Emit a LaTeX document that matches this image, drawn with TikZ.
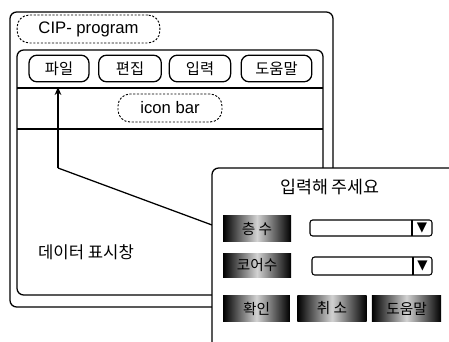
\documentclass[tikz,border=0pt]{standalone}
\usepackage{fontspec}
\setmainfont{Liberation Sans}
\newfontfamily\kr{Noto Sans CJK KR}
\newfontfamily\dv{DejaVu Sans}
\usetikzlibrary{arrows.meta}
\begin{document}
\begin{tikzpicture}[x=0.75pt,y=-0.75pt,line width=0.95pt,
  frame/.style={draw,rounded corners=5pt},
  tag/.style={draw,dash pattern=on 1.6pt off 1.2pt,line width=0.7pt,rounded corners=9pt,inner sep=0pt,minimum height=21pt,font=\fontsize{12.5}{14}\selectfont},
  menubtn/.style={draw,rounded corners=6pt,inner sep=0pt,minimum height=20pt,font=\kr\fontsize{11.5}{13}\selectfont},
  darkbtn/.style={left color=black,right color=black,middle color=gray!35,inner sep=0pt,minimum height=20pt,font=\kr\fontsize{11}{13}\selectfont},
  combo/.style={draw,rounded corners=2pt,line width=0.8pt},
  lbl/.style={font=\kr\fontsize{12.5}{14}\selectfont,inner sep=0pt}]
\useasboundingbox (0,0) rectangle (449,342);
\clip (0,0) rectangle (449,342);
\fill[white] (0,0) rectangle (449,342);
% outer and inner windows
\draw[frame] (10,12) rectangle (333,307);
\draw[frame] (17,50) rectangle (323,295);
\coordinate (sepAl) at (17,88);
\coordinate (sepAr) at (323,88);
\coordinate (sepBl) at (17,129);
\coordinate (sepBr) at (323,129);
\draw (sepAl) -- (sepAr);
\draw (sepBl) -- (sepBr);
\node[tag,minimum width=107pt] (cip) at (88.5,29) {CIP- program};
\node[tag,minimum width=78pt] (icon) at (170,108) {icon bar};
\node[menubtn,minimum width=45pt] (file) at (59,68.5) {파일};
\node[menubtn,minimum width=47pt] (edit) at (130,68.5) {편집};
\node[menubtn,minimum width=46pt] (input) at (200,68.5) {입력};
\node[menubtn,minimum width=53pt] (help) at (276.5,68.5) {도움말};
\node[lbl] (data) at (86,252) {데이터 표시창};
% connector
\coordinate (bend) at (58,168);
\coordinate (tip) at (58,87);
\coordinate (dlgin) at (212,225);
\draw[-{Stealth[length=6pt,width=5pt]}] (bend) -- (tip);
\draw (bend) -- (dlgin);
% dialog
\draw[frame,fill=white] (212,168) rectangle (470,380);
\node[lbl,font=\kr\fontsize{13}{15}\selectfont] (title) at (330,187) {입력해 주세요};
\node[darkbtn,minimum width=51pt] (floor) at (257,228.5) {층 수};
\node[darkbtn,minimum width=51pt,minimum height=18pt] (core) at (257,265) {코어수};
\node[darkbtn,minimum width=50pt] (ok) at (256.5,308.5) {확인};
\node[darkbtn,minimum width=52pt] (cancel) at (332,308.5) {취 소};
\node[darkbtn,minimum width=52pt] (dhelp) at (406.5,308.5) {도움말};
\draw[combo] (310,220) rectangle (432,236);
\draw (412,220) -- (412,236);
\node[inner sep=0pt,font=\dv\fontsize{10}{10}\selectfont] (arr1) at (422,228) {▼};
\draw[combo] (312,257) rectangle (432,275);
\draw (413,257) -- (413,275);
\node[inner sep=0pt,font=\dv\fontsize{10}{10}\selectfont] (arr2) at (422.5,266) {▼};
\end{tikzpicture}
\end{document}
